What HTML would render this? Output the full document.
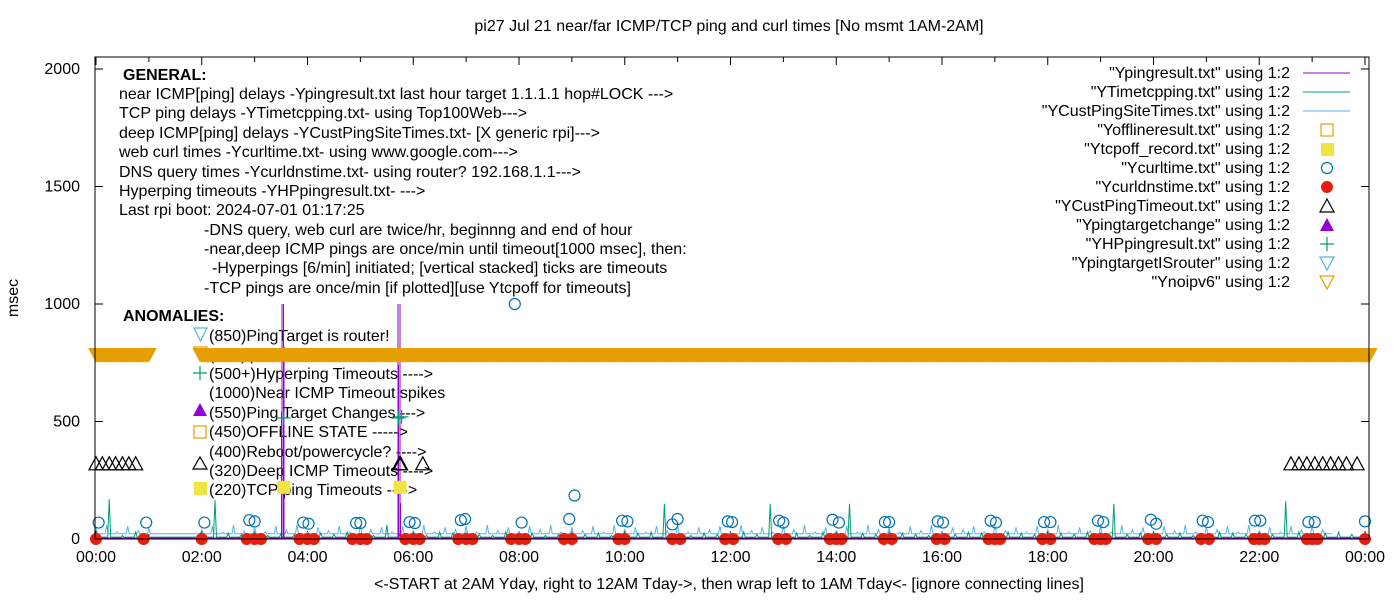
<!DOCTYPE html>
<html><head><meta charset="utf-8">
<style>
html,body{margin:0;padding:0;background:#fff;}
svg{display:block;font-family:"Liberation Sans",Arial,sans-serif;}
</style></head>
<body>
<svg id="chart" width="1400" height="600" viewBox="0 0 1400 600" xmlns="http://www.w3.org/2000/svg">
<rect x="0" y="0" width="1400" height="600" fill="#fff"/>
<text x="729" y="31" font-size="16" text-anchor="middle">pi27 Jul 21  near/far ICMP/TCP ping and curl times [No msmt 1AM-2AM]</text>
<text x="729" y="589" font-size="16" text-anchor="middle">&lt;-START at 2AM Yday, right to 12AM Tday-&gt;, then wrap left to 1AM Tday&lt;- [ignore connecting lines]</text>
<text x="18" y="298" font-size="16" text-anchor="middle" transform="rotate(-90 18 298)">msec</text>
<g id="axes"></g>
<g id="notes" font-size="16" fill="#000">
<text x="123" y="80" font-weight="bold">GENERAL:</text>
<text x="119" y="99">near ICMP[ping] delays -Ypingresult.txt last hour target 1.1.1.1 hop#LOCK ---&gt;</text>
<text x="119" y="118">TCP ping delays -YTimetcpping.txt- using Top100Web---&gt;</text>
<text x="119" y="138">deep ICMP[ping] delays -YCustPingSiteTimes.txt- [X generic rpi]---&gt;</text>
<text x="119" y="157">web curl times -Ycurltime.txt- using www.google.com---&gt;</text>
<text x="119" y="177">DNS query times -Ycurldnstime.txt- using router? 192.168.1.1---&gt;</text>
<text x="119" y="196">Hyperping timeouts -YHPpingresult.txt- ---&gt;</text>
<text x="119" y="215">Last rpi boot: 2024-07-01 01:17:25</text>
<text x="204" y="235">-DNS query, web curl are twice/hr, beginnng and end of hour</text>
<text x="204" y="254">-near,deep ICMP pings are once/min until timeout[1000 msec], then:</text>
<text x="212" y="273">-Hyperpings [6/min] initiated; [vertical stacked] ticks are timeouts</text>
<text x="204" y="293">-TCP pings are once/min [if plotted][use Ytcpoff for timeouts]</text>
<text x="123" y="321" font-weight="bold">ANOMALIES:</text>
<text x="209" y="341">(850)PingTarget is router!</text>
<text x="209" y="360">(785)ipv6 failed</text>
<text x="209" y="379">(500+)Hyperping Timeouts ----&gt;</text>
<text x="209" y="398">(1000)Near ICMP Timeout spikes</text>
<text x="209" y="418">(550)Ping Target Changes ---&gt;</text>
<text x="209" y="437">(450)OFFLINE STATE -----&gt;</text>
<text x="209" y="457">(400)Reboot/powercycle? ----&gt;</text>
<text x="209" y="476">(320)Deep ICMP Timeouts ----&gt;</text>
<text x="209" y="495">(220)TCP ping Timeouts ----&gt;</text>
<path d="M194,328 L207,328 L200.5,341 Z" fill="none" stroke="#56b4e9" stroke-width="1.2"/>
<path d="M194,347 L207,347 L200.5,360 Z" fill="none" stroke="#e69f00" stroke-width="1.2"/>
<path d="M193,373 L207,373 M200,366 L200,380" stroke="#009e73" stroke-width="1.2"/>
<path d="M193,416 L207,416 L200,403 Z" fill="#9400d3"/>
<rect x="194" y="426" width="12" height="12" fill="none" stroke="#e69f00" stroke-width="1.2"/>
<path d="M193,469 L207,469 L200,457 Z" fill="none" stroke="#000" stroke-width="1.2"/>
<rect x="194" y="482" width="13" height="13" fill="#f0e442"/>
</g>
<g id="plot"></g>
<g id="legend" font-size="16"></g>
</svg>
<script>
// ---- data ----
const tcpTimes = [0,0.25,0.5,0.75, 2,2.25,2.5,2.75,3,3.25,3.5,3.75,4,4.25,4.5,4.75,5,5.25,5.5,5.75,6,6.25,6.5,6.75,7,7.25,7.5,7.75,8,8.25,8.5,8.75,9,9.25,9.5,9.75,10,10.25,10.5,10.75,11,11.25,11.5,11.75,12,12.25,12.5,12.75,13,13.25,13.5,13.75,14,14.25,14.5,14.75,15,15.25,15.5,15.75,16,16.25,16.5,16.75,17,17.25,17.5,17.75,18,18.25,18.5,18.75,19,19.25,19.5,19.75,20,20.25,20.5,20.75,21,21.25,21.5,21.75,22,22.25,22.5,22.75,23,23.25,23.5,23.75,24];
const tcpValues = [20,170,15,30, 10,165,25,20,30,15,25,20,15,25,20,30,20,15,60,25,20,15,30,25,25,20,15,30,20,25,15,20,30,20,25,15,20,25,30,150,20,15,25,20,25,30,20,150,20,25,15,30,20,150,25,20,30,25,20,15,25,20,30,25,20,30,25,20,15,25,20,30,25,150,20,25,30,20,25,15,20,30,25,20,25,20,160,30,20,25,30,20,15];
const tcpBase = 8;
const custTimes = [0,0.2,0.4,0.6,0.8,1.0, 2.0,2.2,2.4,2.6,2.8,3,3.2,3.4,3.6,3.8,4,4.2,4.4,4.6,4.8,5,5.2,5.4,5.6,5.8,6,6.2,6.4,6.6,6.8,7,7.2,7.4,7.6,7.8,8,8.2,8.4,8.6,8.8,9,9.2,9.4,9.6,9.8,10,10.2,10.4,10.6,10.8,11,11.2,11.4,11.6,11.8,12,12.2,12.4,12.6,12.8,13,13.2,13.4,13.6,13.8,14,14.2,14.4,14.6,14.8,15,15.2,15.4,15.6,15.8,16,16.2,16.4,16.6,16.8,17,17.2,17.4,17.6,17.8,18,18.2,18.4,18.6,18.8,19,19.2,19.4,19.6,19.8,20,20.2,20.4,20.6,20.8,21,21.2,21.4,21.6,21.8,22,22.2,22.4,22.6,22.8,23,23.2,23.4,23.6,23.8,24];
const custValues = [45,60,30,55,35,45, 40,55,30,60,35,50,30,55,40,60,30,50,35,55,30,60,40,50,30,55,35,60,30,50,40,55,30,60,35,50,30,55,40,60,30,50,35,55,30,60,40,50,30,55,35,60,30,50,40,55,30,60,35,50,30,55,40,60,30,50,35,55,30,60,40,50,30,55,35,60,30,50,40,55,30,60,35,50,30,55,40,60,30,50,35,55,30,60,40,50,30,55,35,60,30,50,40,55,30,60,35,50,30,55,40,60,40];
const custBase = 22;
const pingTimes = [0,1.0,2.0,3.51,3.515,3.52,3.545,3.55,3.555,5.71,5.715,5.72,5.745,5.75,5.755,24];
const pingValues = [5,5,5,5,1000,5,5,1000,5,5,1000,5,5,1000,5,5];
const curlTimes = [0.05,0.95,2.05,2.9,3.0,3.92,4.02,4.92,5.0,5.93,6.03,6.9,6.98,7.92,8.05,8.95,9.05,9.95,10.05,10.9,11.0,11.95,12.03,12.92,13.0,13.93,14.05,14.92,15.0,15.92,16.02,16.92,17.02,17.93,18.05,18.95,19.05,19.95,20.05,20.93,21.03,21.92,22.02,22.93,23.05,24.0];
const curlValues = [70,70,70,80,75,70,65,68,68,72,68,80,85,1000,70,85,185,78,75,62,85,75,72,78,70,82,70,72,72,75,70,78,70,72,72,78,72,82,65,78,72,78,78,72,72,75];
const dnsTimes = [0,0.9,2.0,2.85,3.0,3.12,3.85,4.0,4.12,4.85,5.0,5.12,5.85,6.0,6.12,6.85,7.0,7.12,7.85,8.0,8.12,8.85,9.0,9.88,10.0,10.9,11.05,11.9,12.05,12.9,13.05,13.88,14.0,14.1,14.9,15.05,15.9,16.05,16.88,17.0,17.1,17.9,18.05,18.88,19.0,19.1,19.9,20.05,20.9,21.05,21.9,22.0,22.1,22.9,23.0,23.1,24.0];
const dnsValues = dnsTimes.map(()=>0);
const tcpoffTimes = [3.55,5.75];
const tcpoffValues = [220,220];
const deepTimes = [0,0.12,0.25,0.37,0.5,0.62,0.75,5.74,5.76,6.18,22.6,22.75,22.9,23.05,23.2,23.35,23.5,23.65,23.85];
const deepValues = [320,320,320,320,320,320,320,320,320,320,320,320,320,320,320,320,320,320,320];
const hpTimes = [3.55,5.72,5.78];
const hpValues = [515,515,520];
const noipv6Starts = [0.0,1.97];
const noipv6Ends = [1.0,24.1];
const noipv6Value = 785;
const yTicks = [0,500,1000,1500,2000];
const xTickLabels = ["00:00","02:00","04:00","06:00","08:00","10:00","12:00","14:00","16:00","18:00","20:00","22:00","00:00"];

const X0=95, X1=1369, Y0=57, Y1=539;
function xs(h){return 96 + h*52.875;}
function ys(v){return 539 - v*0.235;}
const NS="http://www.w3.org/2000/svg";
function mk(tag, attrs, parent){const e=document.createElementNS(NS,tag);for(const k in attrs)e.setAttribute(k,attrs[k]);parent.appendChild(e);return e;}
const axes=document.getElementById('axes'), plot=document.getElementById('plot'), legend=document.getElementById('legend');

yTicks.forEach(v=>{
  const y=ys(v);
  let t=mk('path',{d:`M${X0},${y}L${X0+8},${y}M${X1},${y}L${X1-8},${y}`,stroke:'#000','stroke-width':1},axes);
  
  
  let l=mk('text',{x:80,y:y+5,'font-size':16,'text-anchor':'end'},axes);
  l.textContent=v;
  
  
});
for(let h=0;h<=24;h++){
  const x=xs(h), len=(h%2===0)?8:5;
  let t=mk('path',{d:`M${x},${Y1}L${x},${Y1-len}M${x},${Y0}L${x},${Y0+len}`,stroke:'#000','stroke-width':1},axes);
  
  
}
xTickLabels.forEach((s,i)=>{
  let l=mk('text',{x:xs(i*2),y:562,'font-size':16,'text-anchor':'middle'},axes);
  l.textContent=s;
  
  
});

function spiky(ts,vs,base,color,name){
  let d='';
  ts.forEach((t,i)=>{
    const x=xs(t);
    d+=(i?'L':'M')+(x-1.5).toFixed(1)+','+ys(base).toFixed(1)+'L'+x.toFixed(1)+','+ys(vs[i]).toFixed(1)+'L'+(x+1.5).toFixed(1)+','+ys(base).toFixed(1);
  });
  const p=mk('path',{d:d,fill:'none',stroke:color,'stroke-width':1},plot);
  
  
}
spiky(custTimes,custValues,custBase,'#56b4e9','cust-ping-line');
spiky(tcpTimes,tcpValues,tcpBase,'#009e73','tcp-ping-line');
(function(){
  let d='';pingTimes.forEach((t,i)=>{d+=(i?'L':'M')+xs(t).toFixed(1)+','+ys(pingValues[i]).toFixed(1);});
  const p=mk('path',{d:d,fill:'none',stroke:'#9400d3','stroke-width':1,'shape-rendering':'crispEdges'},plot);
  
  
})();

noipv6Starts.forEach((s,i)=>{
  for(let t=s;t<=noipv6Ends[i]+1e-9;t+=0.02){
    const x=xs(t), y=ys(noipv6Value);
    const p=mk('path',{d:`M${x-7},${y-6}L${x+7},${y-6}L${x},${y+7}Z`,fill:'#e69f00',stroke:'#e69f00','stroke-width':1},plot);
    
    
  }
});

dnsTimes.forEach((t,i)=>{
  const c=mk('circle',{cx:xs(t),cy:ys(dnsValues[i]),r:6,fill:'#e51e10'},plot);
  
  
});
curlTimes.forEach((t,i)=>{
  const c=mk('circle',{cx:xs(t),cy:ys(curlValues[i]),r:5.5,fill:'none',stroke:'#0072b2','stroke-width':1.2},plot);
  
  
});
deepTimes.forEach((t,i)=>{
  const x=xs(t),y=ys(deepValues[i]);
  const p=mk('path',{d:`M${x-7},${y+6}L${x+7},${y+6}L${x},${y-7}Z`,fill:'none',stroke:'#000','stroke-width':1.2},plot);
  
  
});
hpTimes.forEach((t,i)=>{
  const x=xs(t),y=ys(hpValues[i]);
  const p=mk('path',{d:`M${x-7},${y}L${x+7},${y}M${x},${y-7}L${x},${y+7}`,stroke:'#009e73','stroke-width':1.2},plot);
  
  
});
tcpoffTimes.forEach((t,i)=>{
  const x=xs(t),y=ys(tcpoffValues[i]);
  const r=mk('rect',{x:x-6.5,y:y-6.5,width:13,height:13,fill:'#f0e442'},plot);
  
  
});

const fr=mk('rect',{x:X0,y:Y0,width:X1-X0,height:Y1-Y0,fill:'none',stroke:'#000','stroke-width':1},plot);



const legLabels=['"Ypingresult.txt" using 1:2','"YTimetcpping.txt" using 1:2','"YCustPingSiteTimes.txt" using 1:2','"Yofflineresult.txt" using 1:2','"Ytcpoff_record.txt" using 1:2','"Ycurltime.txt" using 1:2','"Ycurldnstime.txt" using 1:2','"YCustPingTimeout.txt" using 1:2','"Ypingtargetchange" using 1:2','"YHPpingresult.txt" using 1:2','"YpingtargetISrouter" using 1:2','"Ynoipv6" using 1:2'];
const legSym=[
 y=>`<path d="M1303,${y}L1350,${y}" stroke="#9400d3"/>`,
 y=>`<path d="M1303,${y}L1350,${y}" stroke="#009e73"/>`,
 y=>`<path d="M1303,${y}L1350,${y}" stroke="#56b4e9"/>`,
 y=>`<rect x="1321" y="${y-6}" width="12" height="12" fill="none" stroke="#e69f00" stroke-width="1.2"/>`,
 y=>`<rect x="1321" y="${y-6}" width="13" height="13" fill="#f0e442"/>`,
 y=>`<circle cx="1327" cy="${y}" r="5.5" fill="none" stroke="#0072b2" stroke-width="1.2"/>`,
 y=>`<circle cx="1327" cy="${y}" r="6" fill="#e51e10"/>`,
 y=>`<path d="M1320,${y+6}L1334,${y+6}L1327,${y-7}Z" fill="none" stroke="#000" stroke-width="1.2"/>`,
 y=>`<path d="M1320,${y+6}L1334,${y+6}L1327,${y-7}Z" fill="#9400d3"/>`,
 y=>`<path d="M1320,${y}L1334,${y}M1327,${y-7}L1327,${y+7}" stroke="#009e73" stroke-width="1.2"/>`,
 y=>`<path d="M1320,${y-6}L1334,${y-6}L1327,${y+7}Z" fill="none" stroke="#56b4e9" stroke-width="1.2"/>`,
 y=>`<path d="M1320,${y-6}L1334,${y-6}L1327,${y+7}Z" fill="none" stroke="#e69f00" stroke-width="1.2"/>`
];
legLabels.forEach((s,i)=>{
  const y=73+i*19;
  const g=mk('g',{},legend);
  
  
  const t=mk('text',{x:1290,y:y+5,'text-anchor':'end'},g);
  t.textContent=s;
  g.insertAdjacentHTML('beforeend',legSym[i](y));
});
</script>
</body></html>
